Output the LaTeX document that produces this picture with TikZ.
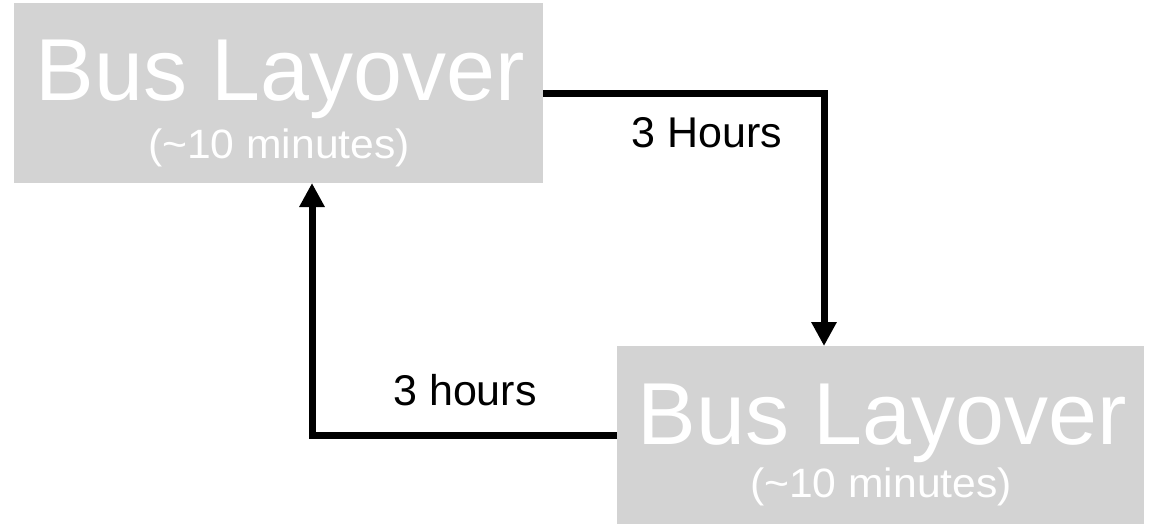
\documentclass[tikz,border=0pt]{standalone}
\usepackage{fontspec}
\setmainfont{Liberation Sans}
\usetikzlibrary{arrows.meta}
\definecolor{boxgray}{RGB}{211,211,211}
\tikzset{
  busbox/.style={fill=boxgray, draw=none, inner sep=0pt, anchor=north west},
  title/.style={text=white, font=\fontsize{88}{88}\selectfont, anchor=base, inner sep=0pt},
  subtitle/.style={text=white, font=\fontsize{41}{41}\selectfont, anchor=base, inner sep=0pt, xscale=1.04},
  lbl/.style={text=black, font=\fontsize{43}{43}\selectfont, anchor=base, inner sep=0pt},
  conn/.style={line width=7pt, -{Triangle[width=24pt,length=24pt]}}
}
\begin{document}
\begin{tikzpicture}[x=1pt,y=-1pt]
\useasboundingbox (0,0) rectangle (1158,523);
\node[busbox, minimum width=529pt, minimum height=180pt] (b1) at (14,3) {};
\node[busbox, minimum width=527pt, minimum height=178pt] (b2) at (617,346) {};
\node[title] (t1) at (280,100) {Bus Layover};
\node[subtitle] (s1) at (279,158) {(\char"7E 10 minutes)};
\node[title] (t2) at (882,444) {Bus Layover};
\node[subtitle] (s2) at (881,497) {(\char"7E 10 minutes)};
\coordinate (c1) at (824,346);
\coordinate (c2) at (312,183);
\draw[conn] (b1.east) -| (c1);
\draw[conn] (b2.west) -| (c2);
\node[lbl] (l1) at (707,147) {3 Hours};
\node[lbl] (l2) at (465,405) {3 hours};
\end{tikzpicture}
\end{document}
